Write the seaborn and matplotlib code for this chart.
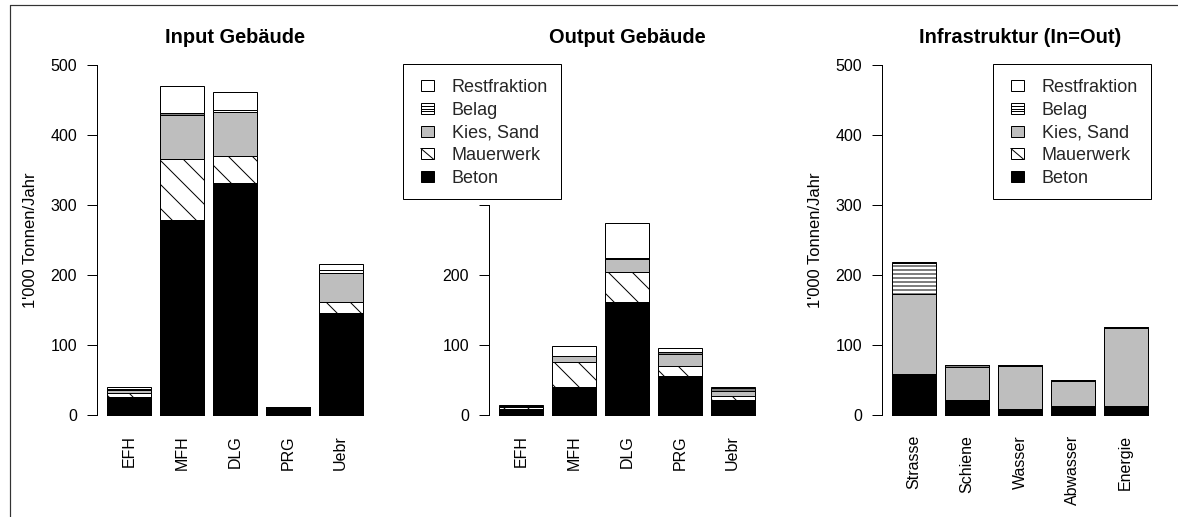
import matplotlib
matplotlib.use("Agg")
import matplotlib.pyplot as plt
import seaborn as sns
import pandas as pd
import numpy as np
from matplotlib.patches import Patch, Rectangle
from matplotlib.lines import Line2D
from matplotlib.legend_handler import HandlerBase

sns.set_theme(style="white")
plt.rcParams["font.family"] = ["Liberation Sans", "DejaVu Sans"]
plt.rcParams["hatch.linewidth"] = 1.0

# ---------------- data (1'000 Tonnen/Jahr) ----------------
materials = ["Beton", "Mauerwerk", "Kies, Sand", "Belag", "Restfraktion"]
gebaeude = ["EFH", "MFH", "DLG", "PRG", "Uebr"]
infra = ["Strasse", "Schiene", "Wasser", "Abwasser", "Energie"]

input_beton = [26, 278.5, 331, 12, 146]
input_mauerwerk = [5, 87.5, 39, 0, 16]
input_kies = [5, 62.5, 63, 0, 41]
input_belag = [1.5, 3.5, 2.7, 0, 4]
input_rest = [2.5, 38.5, 25.3, 0, 8.5]

output_beton = [8, 40.5, 162, 55.7, 21.4]
output_mauerwerk = [3, 35, 43, 14.3, 6]
output_kies = [1, 8.5, 17.5, 17, 7]
output_belag = [1.5, 1, 1.5, 3, 3.5]
output_rest = [1, 13.5, 50, 6, 1.5]

infra_beton = [58.6, 21.4, 8, 12.9, 12.9]
infra_mauerwerk = [0, 0, 0, 0, 0]
infra_kies = [114, 47.6, 62, 35, 111]
infra_belag = [44, 2, 2, 2, 1.5]
infra_rest = [1.5, 0, 0, 0, 0]

titles = ["Input Gebäude", "Output Gebäude", "Infrastruktur (In=Out)"]
ylabel = "1'000 Tonnen/Jahr"

# styles per material
fills = {"Beton": "black", "Mauerwerk": "white", "Kies, Sand": "#BEBEBE",
         "Belag": "white", "Restfraktion": "white"}
hatches = {"Beton": None, "Mauerwerk": "\\", "Kies, Sand": None,
           "Belag": "---", "Restfraktion": None}


class KeyHandler(HandlerBase):
    """Small R-style legend key square placed at the right of the handle box."""
    def create_artists(self, legend, orig_handle, xdescent, ydescent,
                       width, height, fontsize, trans):
        s, hh = 13, 11
        x0 = -xdescent + width - s
        y0 = -ydescent + (height - hh) / 2
        rect = Rectangle((x0, y0), s, hh, facecolor=orig_handle.get_facecolor(),
                         edgecolor="black", linewidth=1, transform=trans)
        arts = [rect]
        hatch = orig_handle.get_hatch()
        if hatch == "\\":
            arts.append(Line2D([x0, x0 + s], [y0 + hh, y0], color="black", lw=1,
                               transform=trans))
        elif hatch == "---":
            for f in (0.27, 0.5, 0.73):
                arts.append(Line2D([x0, x0 + s], [y0 + f * hh] * 2, color="black",
                                   lw=1, transform=trans))
        return arts


W, H = 1178, 517
fig = plt.figure(figsize=(W / 72, H / 72), dpi=72)

panels = [
    (gebaeude, [input_beton, input_mauerwerk, input_kies, input_belag, input_rest]),
    (gebaeude, [output_beton, output_mauerwerk, output_kies, output_belag, output_rest]),
    (infra, [infra_beton, infra_mauerwerk, infra_kies, infra_belag, infra_rest]),
]
lefts = [97, 489, 882]
ax_w, ax_top, ax_bot = 276, 51, 429

TICK_FS = 16
LEG_FS = 18
for i, (cats, layers) in enumerate(panels):
    ax = fig.add_axes([lefts[i] / W, (H - ax_bot) / H, ax_w / W, (ax_bot - ax_top) / H])
    df = pd.DataFrame({"cat": cats})
    cum = np.zeros(len(cats))
    for m, vals in zip(materials, layers):
        cum = cum + np.array(vals, dtype=float)
        df[m] = cum
    # draw cumulative bars from top layer downwards (stacked look)
    for m in materials[::-1]:
        sns.barplot(data=df, x="cat", y=m, color=fills[m], saturation=1,
                    width=1 / 1.2, edgecolor="black", linewidth=1,
                    hatch=hatches[m], errorbar=None, ax=ax)
    ax.set_xlim(-0.61, 4.61)
    ax.set_ylim(-20, 520)
    for s in ["top", "right", "bottom"]:
        ax.spines[s].set_visible(False)
    ax.spines["left"].set_color("black")
    ax.spines["left"].set_linewidth(1)
    if i == 1:
        ax.spines["left"].set_bounds(0, 300)
        ax.set_yticks([0, 100, 200, 300])
        ax.set_yticklabels(["0", "100", "200", ""])
    else:
        ax.spines["left"].set_bounds(0, 500)
        ax.set_yticks([0, 100, 200, 300, 400, 500])
        ax.set_yticklabels(["0", "100", "200", "300", "400", "500"])
    ax.tick_params(axis="y", left=True, direction="out", length=10, width=1,
                   color="black", pad=10, labelsize=TICK_FS, labelcolor="black")
    ax.tick_params(axis="x", bottom=False, length=0, pad=6, labelsize=TICK_FS,
                   labelcolor="black", labelrotation=90)
    ax.set_xlabel("")
    if i != 1:
        ax.set_ylabel(ylabel, fontsize=16.5, color="black")
        ax.yaxis.set_label_coords(-59 / ax_w, 0.5)
    else:
        ax.set_ylabel("")
    ax.set_title(titles[i], fontsize=20, fontweight="bold", color="black", pad=8)
    ax.grid(False)

    if i >= 1:
        handles = [Patch(facecolor=fills[m], edgecolor="black", hatch=hatches[m],
                         linewidth=1, label=m) for m in materials[::-1]]
        lx = 403 if i == 1 else 993
        leg = ax.legend(handles=handles, loc="upper left",
                        bbox_to_anchor=(lx / W, 1 - 64 / H),
                        bbox_transform=fig.transFigure, borderaxespad=0,
                        fontsize=LEG_FS, frameon=True, fancybox=False, framealpha=1,
                        edgecolor="black", handlelength=18.2 / LEG_FS,
                        handleheight=22 / LEG_FS, handletextpad=1.0,
                        labelspacing=0.18, borderpad=0.7,
                        handler_map={Patch: KeyHandler()})
        leg.get_frame().set_linewidth(1)
        leg.set_zorder(10)

# figure border lines (top and left)
fig.add_artist(Line2D([10 / W, 1], [1 - 5 / H, 1 - 5 / H], transform=fig.transFigure,
                      color="#333333", lw=1.2))
fig.add_artist(Line2D([10 / W, 10 / W], [0, 1 - 5 / H], transform=fig.transFigure,
                      color="#333333", lw=1.2))

fig.savefig("out.png", dpi=72, facecolor="white")
